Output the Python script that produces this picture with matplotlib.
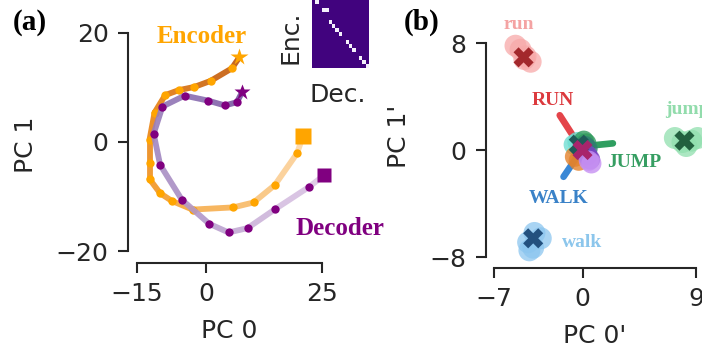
import numpy as np
import matplotlib
matplotlib.use('Agg')
import matplotlib.pyplot as plt
from matplotlib.collections import LineCollection
from matplotlib.colors import LinearSegmentedColormap

# ---------------- data: panel (a) ----------------
enc_x = [7.1, 5.5, 0.9, -2.6, -6.0, -8.9, -11.2, -12.3, -12.3, -12.3, -10.0, -7.5, -3.0, 5.8, 10.2, 14.8, 19.6, 20.9]
enc_y = [15.5, 13.5, 11.2, 10.1, 9.5, 8.6, 5.4, 0.4, -3.9, -6.8, -9.4, -10.8, -12.4, -12.0, -11.1, -7.9, -2.1, 1.1]
dec_x = [7.7, 6.6, 4.0, 0.3, -4.7, -9.5, -11.4, -10.0, -5.3, 0.6, 4.8, 8.9, 14.9, 22.1, 25.5]
dec_y = [9.1, 7.3, 6.7, 7.6, 8.5, 6.5, 1.5, -4.2, -10.6, -15.0, -16.6, -15.8, -12.3, -8.3, -6.1]
a_xticks = [-15, 0, 25]
a_yticks = [-20, 0, 20]
attn_rows = [0, 2, 2, 5, 6, 7, 8, 10, 11, 12, 14, 15, 16]
attn_cols = [1, 3, 4, 5, 6, 7, 8, 10, 11, 12, 14, 15, 16]

# ---------------- data: panel (b) ----------------
run_x = [-5.3, -4.9, -4.5, -4.1, -4.6]
run_y = [7.8, 7.5, 7.0, 6.6, 6.8]
run_c = [-4.66, 6.93]
walk_x = [-4.3, -3.8, -3.3, -3.9, -4.2]
walk_y = [-6.9, -6.2, -6.6, -7.3, -7.5]
walk_c = [-3.9, -6.6]
jump_x = [7.3, 7.9, 8.6, 9.1, 8.2]
jump_y = [0.9, 0.6, 0.7, 0.9, 0.3]
jump_c = [8.06, 0.70]
mid_groups = {
    'cyan':   ([-0.7, -0.4], [0.4, 0.6]),
    'orange': ([-0.6, -0.3], [-0.5, -0.8]),
    'green':  ([0.1, 0.3], [0.7, 0.5]),
    'teal':   ([0.2, 0.4], [0.3, 0.1]),
    'purple': ([0.4, 0.6], [-0.4, -0.7]),
    'violet': ([0.5, 0.7], [-0.8, -1.0]),
}
mid_c = [0.0, 0.0]
mid_c2 = [-0.3, 0.4]
RUN_vec = ([-0.3, -1.8], [0.4, 2.6])
JUMP_vec = ([0.3, 2.4], [0.3, 0.5])
WALK_vec = ([-0.5, -1.5], [-0.6, -2.0])
b_xticks = [-7, 0, 9]
b_yticks = [-8, 0, 8]

W, H = 702, 351
fig = plt.figure(figsize=(W / 100, H / 100), dpi=100)

def box(x0, x1, ytop, ybot):
    return [x0 / W, 1 - ybot / H, (x1 - x0) / W, (ybot - ytop) / H]

TXT = '#262626'
FS = 18
serif = 'Liberation Serif'

def style(ax, xt, yt):
    for s in ['top', 'right']:
        ax.spines[s].set_visible(False)
    for s in ['left', 'bottom']:
        ax.spines[s].set_color(TXT)
        ax.spines[s].set_linewidth(1.5)
    ax.spines['left'].set_bounds(yt[0], yt[-1])
    ax.spines['bottom'].set_bounds(xt[0], xt[-1])
    ax.set_xticks(xt)
    ax.set_yticks(yt)
    ax.set_xticklabels([f'{v}'.replace('-', '\u2212') for v in xt])
    ax.set_yticklabels([f'{v}'.replace('-', '\u2212') for v in yt])
    ax.tick_params(colors=TXT, labelsize=FS, length=7, width=1.5)
    ax.tick_params(axis='x', pad=7)
    ax.tick_params(axis='y', pad=7)

# ---------------- panel (a) ----------------
ax = fig.add_axes(box(128, 331, 27.5, 263))
ax.set_xlim(-16.95, 26.95)
ax.set_ylim(-22.2, 21.0)
style(ax, a_xticks, a_yticks)

enc_cmap = LinearSegmentedColormap.from_list('enc', ['#bf560a', '#e8800f', '#f5a030', '#fcd8a8'])
dec_cmap = LinearSegmentedColormap.from_list('dec', ['#76529f', '#9277b7', '#b89dcd', '#ddc8e5'])

def traj(xs, ys, cmap, dotc, ms_star, ms_sq):
    pts = np.column_stack([xs, ys])
    segs = np.stack([pts[:-1], pts[1:]], axis=1)
    t = np.linspace(0, 1, len(segs))
    lc = LineCollection(segs, colors=cmap(t), linewidths=4.2, capstyle='round', joinstyle='round', alpha=0.9)
    ax.add_collection(lc)
    ax.plot(xs[1:-1], ys[1:-1], 'o', color=dotc, ms=6, mec='none')
    ax.plot(xs[0], ys[0], '*', color=dotc, ms=ms_star, mec='none')
    ax.plot(xs[-1], ys[-1], 's', color=dotc, ms=ms_sq, mec='none')

traj(enc_x, enc_y, enc_cmap, '#ffa500', 13, 12)
traj(dec_x, dec_y, dec_cmap, '#800080', 12, 10)

ax.text(-1.1, 19.4, 'Encoder', color='#ffa500', fontsize=18, fontweight='bold', family=serif,
        ha='center', va='center')
ax.text(28.8, -15.8, 'Decoder', color='#800080', fontsize=18, fontweight='bold', family=serif,
        ha='center', va='center', clip_on=False)
ax.set_xlabel('PC 0', fontsize=FS, color=TXT, labelpad=9)
ax.set_ylabel('PC 1', fontsize=FS, color=TXT, labelpad=13)

# inset heatmap
axh = fig.add_axes(box(312, 369, 0, 68))
n = 17
M = np.zeros((n, n))
M[attn_rows, attn_cols] = 1.0
hm_cmap = LinearSegmentedColormap.from_list('hm', ['#41037e', '#f4f0fb'])
axh.imshow(M, cmap=hm_cmap, aspect='auto', interpolation='nearest')
axh.set_xticks([])
axh.set_yticks([])
for s in axh.spines.values():
    s.set_visible(False)
fig.text(338 / W, 1 - 95 / H, 'Dec.', fontsize=FS, color=TXT, ha='center', va='center')
fig.text(291 / W, 1 - 37 / H, 'Enc.', fontsize=FS, color=TXT, ha='center', va='center', rotation=90)

fig.text(30 / W, 1 - 22 / H, '(a)', fontsize=21, fontweight='bold', family=serif, color='black',
         ha='center', va='center')
fig.text(422 / W, 1 - 22 / H, '(b)', fontsize=21, fontweight='bold', family=serif, color='black',
         ha='center', va='center')

# ---------------- panel (b) ----------------
bx = fig.add_axes(box(486, 704, 5, 268))
bx.set_xlim(-7.63, -7.63 + 218 / 12.65)
bx.set_ylim(-8.82, -8.82 + 263 / 13.375)
style(bx, b_xticks, b_yticks)

S = 250
bx.scatter(run_x, run_y, s=S, color='#f7a9a9', alpha=0.75, edgecolors='none', zorder=2)
bx.scatter(walk_x, walk_y, s=S, color='#8cc6ef', alpha=0.75, edgecolors='none', zorder=2)
bx.scatter(jump_x, jump_y, s=S, color='#90dfae', alpha=0.75, edgecolors='none', zorder=2)

mid_cols = {'cyan': '#6fded2', 'orange': '#e4822c', 'green': '#2f9a5c', 'teal': '#2f7d72',
            'purple': '#7a42c6', 'violet': '#c690f2'}
for k, (xs, ys) in mid_groups.items():
    bx.scatter(xs, ys, s=210, color=mid_cols[k], alpha=0.8, edgecolors='none', zorder=3)

for (xs, ys), c in [(RUN_vec, '#e4444a'), (JUMP_vec, '#2f9e60'), (WALK_vec, '#3a88d6')]:
    bx.plot(xs, ys, color=c, lw=4.8, solid_capstyle='round', zorder=2.5)

bx.scatter(*run_c, marker='X', s=210, color='#a3282c', edgecolors='none', zorder=4)
bx.scatter(*walk_c, marker='X', s=210, color='#23507e', edgecolors='none', zorder=4)
bx.scatter(*jump_c, marker='X', s=210, color='#22603f', edgecolors='none', zorder=4)
bx.scatter(*mid_c2, marker='X', s=210, color='#1f5a58', edgecolors='none', zorder=4)
bx.scatter(*mid_c, marker='X', s=210, color='#a8246c', edgecolors='none', zorder=5)

lab = dict(fontsize=14, fontweight='bold', family=serif, ha='center', va='center', clip_on=False)
bx.text(-5.06, 9.42, 'run', color='#f4a3a3', **lab)
bx.text(-2.34, 3.74, 'RUN', color='#dc3a3e', **lab)
bx.text(4.06, -0.92, 'JUMP', color='#369e62', **lab)
bx.text(-1.9, -3.61, 'WALK', color='#3a82c8', **lab)
bx.text(0.0, -6.95, 'walk', color='#8cc6ec', **lab)
bx.text(8.27, 3.0, 'jump', color='#92dcac', **lab)

bx.set_xlabel("PC 0'", fontsize=FS, color=TXT, labelpad=9)
bx.set_ylabel("PC 1'", fontsize=FS, color=TXT, labelpad=13)

fig.savefig('out.png', dpi=100)
